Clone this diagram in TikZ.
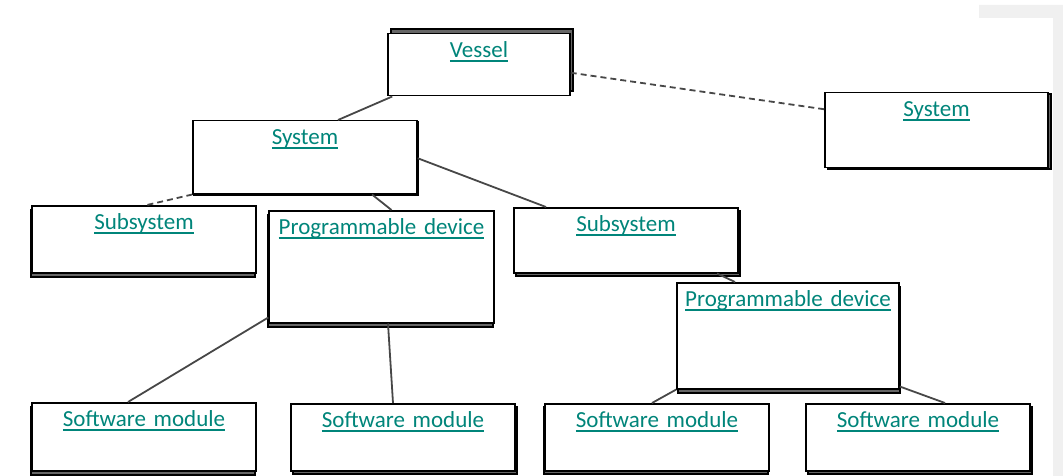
\documentclass[tikz,border=0pt]{standalone}
\usepackage{fontspec}
\setmainfont{Carlito}
\usepackage{xcolor}
\usepackage{tikz}
\usetikzlibrary{shadows}
\usetikzlibrary{backgrounds}
\definecolor{linkteal}{RGB}{0,133,122}
% underlined link text
\newcommand\lnk[1]{\leavevmode\setbox0=\hbox{#1}\rlap{\copy0}\rule[-4pt]{\wd0}{1.8pt}}
\tikzset{
  entity/.style 2 args = {draw=black, line width=1.5pt, fill=white, inner sep=0pt,
    align=center, text width=#1, text height=24pt, text depth=#2,
    font=\fontsize{23}{27}\selectfont, text=linkteal},% box, text on top
  boxshadow/.style 2 args = {general shadow={fill=black!60, draw=black,
    line width=2pt, shadow xshift=#1, shadow yshift=#2}},
  link/.style = {draw=black!72, line width=1.8pt},
  weak_link/.style = {link, dash pattern=on 6pt off 4pt}
}

\begin{document}
\begin{tikzpicture}[x=1pt, y=-1pt]
\useasboundingbox (0,0) rectangle (1063,476);
% grey strip in the corner
\fill[black!6] (979,5) -- (1063,5) -- (1063,476) -- (1053,476) -- (1053,18) -- (979,18) -- cycle;

\node[entity={182pt}{38pt}, boxshadow={3pt}{5pt}, anchor=north] (vessel) at (479,33) {\lnk{Vessel}};
\node[entity={223pt}{51pt}, boxshadow={3pt}{-1pt}, anchor=north] (sysR) at (936.5,92) {\lnk{System}};
\node[entity={224pt}{49pt}, boxshadow={1pt}{-1pt}, anchor=north] (sysL) at (305,120) {\lnk{System}};

\node[entity={224pt}{43pt}, boxshadow={-1pt}{-4pt}, anchor=north] (subL) at (144,205) {\lnk{Subsystem}};
\node[entity={225pt}{88pt}, boxshadow={-1pt}{-4pt}, anchor=north] (progL) at (381.5,210) {\lnk{Programmable device}};
\node[entity={224pt}{41pt}, boxshadow={2pt}{-3pt}, anchor=north] (subM) at (626,207) {\lnk{Subsystem}};
\node[entity={222pt}{82pt}, boxshadow={1pt}{-4pt}, anchor=north] (progR) at (788,282) {\lnk{Programmable device}};

\node[entity={224pt}{44pt}, boxshadow={-1pt}{-4pt}, anchor=north] (sw1) at (144,402) {\lnk{Software module}};
\node[entity={224pt}{43pt}, boxshadow={2pt}{-3pt}, anchor=north] (sw2) at (403,403) {\lnk{Software module}};
\node[entity={224pt}{43pt}, boxshadow={-1pt}{-3pt}, anchor=north] (sw3) at (657,403) {\lnk{Software module}};
\node[entity={224pt}{43pt}, boxshadow={2pt}{-3pt}, anchor=north] (sw4) at (918,403) {\lnk{Software module}};

% connectors
\draw[link] ([xshift=5pt]vessel.south west) -- ([xshift=33pt]sysL.north);
\draw[weak_link] ([yshift=-8pt]vessel.east) -- ([yshift=21pt]sysR.west);
\draw[weak_link] (sysL.south west) -- ([xshift=3pt]subL.north);
\draw[link] ([xshift=67pt]sysL.south) -- ([xshift=10pt]progL.north);
\draw[link] ([yshift=-1pt]sysL.east) -- ([xshift=-80pt]subM.north);
\draw[link] ([xshift=91pt]subM.south) -- ([xshift=-53pt]progR.north);
\draw[link] ([yshift=6pt]progL.south west) -- ([xshift=-16pt]sw1.north);
\draw[link] ([xshift=6.5pt]progL.south) -- ([xshift=-10pt]sw2.north);
\draw[link] (progR.south west) -- ([xshift=-5pt]sw3.north);
\draw[link] ([yshift=3pt]progR.south east) -- ([xshift=27pt]sw4.north);
\end{tikzpicture}
\end{document}
